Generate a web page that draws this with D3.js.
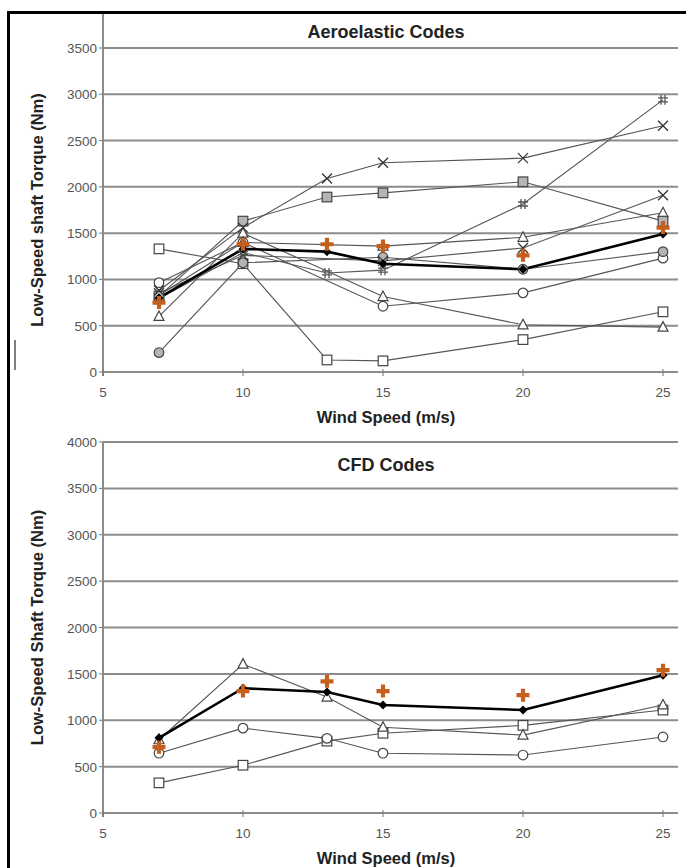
<!DOCTYPE html>
<html>
<head>
<meta charset="utf-8">
<script src="https://cdn.jsdelivr.net/npm/d3@7"></script>
<style>
body{margin:0;background:#fff}
svg{display:block;font-family:"Liberation Sans",Arial,sans-serif}
</style>
</head>
<body>
<div id="chart"></div>
<script>

// wind speeds where results were given
const windSpeed = [7, 10, 13, 15, 20, 25]
const xTicks = [5, 10, 15, 20, 25]
const topTicks = [0, 500, 1000, 1500, 2000, 2500, 3000, 3500]
const bottomTicks = [0, 500, 1000, 1500, 2000, 2500, 3000, 3500, 4000]

// Aeroelastic codes (null = no value at that speed)
const aeroMeasured   = [800, 1330, 1300, 1170, 1110, 1490]
const aeroOrange     = [750, 1380, 1380, 1360, 1260, 1560]
const aeroCrossA     = [880, 1560, 2090, 2260, 2310, 2660]
const aeroGraySquare = [820, 1630, 1890, 1935, 2055, 1630]
const aeroHash       = [790, 1290, 1070, 1100, 1815, 2940]
const aeroTriangleA  = [600, 1500, null, 815, 510, 485]
const aeroTriangleB  = [830, 1400, null, 1360, 1455, 1720]
const aeroCircle     = [965, 1400, null, 710, 855, 1230]
const aeroGrayCircle = [210, 1180, null, 1240, 1110, 1300]
const aeroSquare     = [1330, 1170, 130, 120, 350, 650]
const aeroCrossB     = [850, 1260, null, 1200, 1340, 1910]

// CFD codes
const cfdMeasured = [810, 1345, 1305, 1165, 1110, 1485]
const cfdOrange   = [710, 1315, 1420, 1315, 1270, 1540]
const cfdTriangle = [790, 1605, 1250, 925, 840, 1165]
const cfdCircle   = [645, 915, 805, 645, 625, 820]
const cfdSquare   = [325, 515, 775, 860, 945, 1110]

const width = 686
const height = 868
const orange = "#c65f1e"

const svg = d3.select("#chart")
.append("svg")
.attr("width", width)
.attr("height", height)

const x = d3.scaleLinear().domain([5, 25]).range([103, 663])
const plotRight = 678

function marker(g, type, cx, cy){
  if(type=="square" || type=="squareGray"){
    g.append("rect").attr("x",cx-4.8).attr("y",cy-4.8).attr("width",9.6).attr("height",9.6)
    .attr("fill", type=="square" ? "#fff" : "#b4b4b4").attr("stroke","#444").attr("stroke-width",1.2)
  } else if(type=="circle" || type=="circleGray"){
    g.append("circle").attr("cx",cx).attr("cy",cy).attr("r",4.8)
    .attr("fill", type=="circle" ? "#fff" : "#b4b4b4").attr("stroke","#444").attr("stroke-width",1.2)
  } else if(type=="triangle"){
    g.append("path").attr("d",`M${cx},${cy-5.5}L${cx+5},${cy+4}L${cx-5},${cy+4}Z`)
    .attr("fill","#fff").attr("stroke","#444").attr("stroke-width",1.2)
  } else if(type=="times"){
    g.append("path").attr("d",`M${cx-5},${cy-5}L${cx+5},${cy+5}M${cx-5},${cy+5}L${cx+5},${cy-5}`)
    .attr("stroke","#333").attr("stroke-width",1.3)
  } else if(type=="hash"){
    g.append("path").attr("d",`M${cx-2},${cy-5}V${cy+5}M${cx+2},${cy-5}V${cy+5}M${cx-5},${cy-2}H${cx+5}M${cx-5},${cy+2}H${cx+5}`)
    .attr("stroke","#555").attr("stroke-width",1.3)
  } else if(type=="diamond"){
    g.append("path").attr("d",`M${cx},${cy-4.5}L${cx+4.5},${cy}L${cx},${cy+4.5}L${cx-4.5},${cy}Z`)
    .attr("fill","#000")
  } else if(type=="plus"){
    g.append("path").attr("d",`M${cx-6.5},${cy}H${cx+6.5}M${cx},${cy-6.5}V${cy+6.5}`)
    .attr("stroke",orange).attr("stroke-width",4.2)
  }
}

function drawPanel(opt){

  const y = d3.scaleLinear().domain([0, opt.max]).range([opt.bottom, opt.top])
  const g = svg.append("g")

  // gridlines
  g.selectAll(".grid")
  .data(opt.ticks)
  .enter()
  .append("line")
  .attr("x1", x(5)).attr("x2", plotRight)
  .attr("y1", d=>y(d)).attr("y2", d=>y(d))
  .attr("stroke","#8c8c8c")
  .attr("stroke-width",2)

  // y axis line
  g.append("line")
  .attr("x1", x(5)).attr("x2", x(5))
  .attr("y1", opt.axisTop).attr("y2", y(0)+4)
  .attr("stroke","#8c8c8c").attr("stroke-width",2)

  // y ticks + labels
  g.selectAll(".yt")
  .data(opt.ticks)
  .enter()
  .append("line")
  .attr("x1", x(5)-4).attr("x2", x(5))
  .attr("y1", d=>y(d)).attr("y2", d=>y(d))
  .attr("stroke","#777").attr("stroke-width",1)

  g.selectAll(".yl")
  .data(opt.ticks)
  .enter()
  .append("text")
  .attr("x", x(5)-6)
  .attr("y", d=>y(d)+5)
  .attr("text-anchor","end")
  .attr("font-size","13.5px")
  .attr("fill","#555")
  .text(d=>d)

  // x ticks + labels
  g.selectAll(".xt")
  .data(xTicks)
  .enter()
  .append("line")
  .attr("x1", d=>x(d)).attr("x2", d=>x(d))
  .attr("y1", y(0)-3).attr("y2", y(0)+4)
  .attr("stroke","#777").attr("stroke-width",1)

  g.selectAll(".xl")
  .data(xTicks)
  .enter()
  .append("text")
  .attr("x", d=>x(d))
  .attr("y", y(0)+25)
  .attr("text-anchor","middle")
  .attr("font-size","13.5px")
  .attr("fill","#555")
  .text(d=>d)

  // titles
  g.append("text")
  .attr("x", 386).attr("y", opt.titleY)
  .attr("text-anchor","middle")
  .attr("font-size","18px").attr("font-weight","bold").attr("fill","#222")
  .text(opt.title)

  g.append("text")
  .attr("x", 386).attr("y", y(0)+51)
  .attr("text-anchor","middle")
  .attr("font-size","16.5px").attr("font-weight","bold").attr("fill","#222")
  .text("Wind Speed (m/s)")

  g.append("text")
  .attr("transform", `translate(43,${(opt.top+opt.bottom)/2}) rotate(-90)`)
  .attr("text-anchor","middle")
  .attr("font-size","16.5px").attr("font-weight","bold").attr("fill","#222")
  .text(opt.yLabel)

  const line = d3.line().x(d=>x(d[0])).y(d=>y(d[1]))

  function pts(vals){
    return windSpeed.map((w,i)=>[w, vals[i]]).filter(d=>d[1]!=null)
  }

  // thin series lines
  opt.series.forEach(s=>{
    if(s.line){
      g.append("path")
      .attr("d", line(pts(s.values)))
      .attr("fill","none")
      .attr("stroke", s.color || "#555")
      .attr("stroke-width", s.width || 1.1)
    }
  })

  // markers
  opt.series.forEach(s=>{
    pts(s.values).forEach(d=>marker(g, s.marker, x(d[0]), y(d[1])))
  })
}

drawPanel({
  title:"Aeroelastic Codes",
  titleY:38,
  yLabel:"Low-Speed shaft Torque (Nm)",
  max:3500, top:48, bottom:372, axisTop:13,
  ticks: topTicks,
  series:[
    {values:aeroSquare, marker:"square", line:true},
    {values:aeroTriangleA, marker:"triangle", line:true},
    {values:aeroCircle, marker:"circle", line:true},
    {values:aeroGrayCircle, marker:"circleGray", line:true},
    {values:aeroTriangleB, marker:"triangle", line:true},
    {values:aeroCrossB, marker:"times", line:true},
    {values:aeroHash, marker:"hash", line:true},
    {values:aeroGraySquare, marker:"squareGray", line:true},
    {values:aeroCrossA, marker:"times", line:true},
    {values:aeroMeasured, marker:"diamond", line:true, color:"#000", width:2.6},
    {values:aeroOrange, marker:"plus", line:false}
  ]
})

drawPanel({
  title:"CFD Codes",
  titleY:471,
  yLabel:"Low-Speed Shaft Torque (Nm)",
  max:4000, top:442, bottom:813, axisTop:442,
  ticks: bottomTicks,
  series:[
    {values:cfdSquare, marker:"square", line:true},
    {values:cfdCircle, marker:"circle", line:true},
    {values:cfdTriangle, marker:"triangle", line:true},
    {values:cfdMeasured, marker:"diamond", line:true, color:"#000", width:2.6},
    {values:cfdOrange, marker:"plus", line:false}
  ]
})

// outer frame
svg.append("rect")
.attr("x",8.5).attr("y",12.5)
.attr("width",width).attr("height",height)
.attr("fill","none")
.attr("stroke","#000")
.attr("stroke-width",3)

// small stray mark at left
svg.append("line")
.attr("x1",15).attr("x2",15)
.attr("y1",340).attr("y2",370)
.attr("stroke","#555").attr("stroke-width",1.5)

</script>
</body>
</html>
